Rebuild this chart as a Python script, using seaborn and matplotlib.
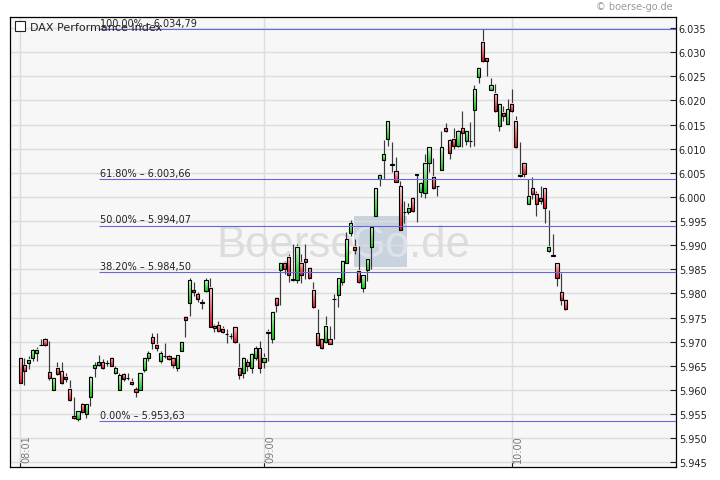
import numpy as np
import pandas as pd
import matplotlib
matplotlib.use("Agg")
import matplotlib.pyplot as plt
import matplotlib.transforms as mtransforms
from matplotlib.colors import LinearSegmentedColormap
from matplotlib.patches import Rectangle
import seaborn as sns

# ---------------- data (DAX 1-minute candles, 08:01 ... 10:13) ----------------
opens = [5966.7, 5965.1, 5965.5, 5966.7, 5967.6, 5969.4, 5970.6, 5963.7, 5960.0, 5964.6,
         5963.9, 5962.7, 5960.2, 5954.5, 5954.0, 5957.0, 5955.0, 5958.5, 5964.6, 5965.1,
         5965.7, 5965.6, 5966.7, 5963.6, 5960.0, 5963.2, 5962.5, 5961.7, 5960.1, 5960.0,
         5964.1, 5966.7, 5970.9, 5969.3, 5966.0, 5967.1, 5967.0, 5966.7, 5964.6, 5968.1,
         5975.2, 5978.1, 5980.7, 5979.8, 5978.3, 5980.5, 5981.2, 5973.3, 5973.4, 5972.7,
         5971.6, 5971.2, 5973.1, 5964.6, 5963.6, 5965.7, 5964.6, 5966.7, 5968.6, 5965.7,
         5971.7, 5970.6, 5979.1, 5984.8, 5986.3, 5987.6, 5982.9, 5982.8, 5986.3, 5987.2,
         5985.2, 5980.7, 5971.7, 5970.6, 5969.9, 5970.6, 5978.9, 5979.6, 5982.3, 5986.3,
         5992.6, 5989.7, 5984.7, 5981.2, 5984.9, 5989.7, 5996.1, 6003.7, 6007.7, 6012.1,
         6006.8, 6005.3, 6002.2, 5996.9, 5996.8, 5999.7, 6004.7, 6001.1, 6000.8, 6007.1,
         6004.2, 6002.3, 6005.6, 6014.2, 6011.8, 6012.1, 6010.6, 6014.2, 6011.6, 6011.6,
         6018.1, 6024.8, 6032.2, 6028.7, 6022.2, 6021.3, 6014.6, 6017.4, 6015.2, 6019.2,
         6015.7, 6004.3, 6007.1, 5998.6, 6001.8, 6000.7, 5999.7, 6001.8, 5988.7, 5987.9,
         5986.2, 5980.2, 5978.7]
highs = [5966.8, 5966.7, 5967.0, 5968.4, 5968.9, 5970.5, 5970.8, 5970.1, 5962.6, 5965.8,
         5965.8, 5963.5, 5962.1, 5958.5, 5955.7, 5957.2, 5957.1, 5962.8, 5965.8, 5967.2,
         5966.5, 5966.3, 5966.8, 5965.0, 5963.6, 5963.6, 5963.4, 5962.4, 5960.7, 5963.7,
         5966.9, 5968.0, 5971.7, 5971.7, 5968.1, 5969.8, 5967.3, 5966.8, 5967.3, 5970.0,
         5975.4, 5983.1, 5982.3, 5980.3, 5978.9, 5983.1, 5983.1, 5973.6, 5974.3, 5973.3,
         5972.6, 5971.8, 5973.2, 5969.7, 5966.8, 5966.4, 5967.6, 5969.1, 5970.2, 5967.7,
         5972.7, 5976.3, 5979.2, 5986.4, 5986.7, 5988.1, 5990.2, 5990.2, 5988.1, 5990.2,
         5985.3, 5982.4, 5976.7, 5970.7, 5975.3, 5973.3, 5979.8, 5983.2, 5986.8, 5992.8,
         5995.2, 5991.2, 5989.9, 5983.9, 5987.3, 5994.0, 6001.9, 6004.7, 6011.8, 6015.8,
         6011.3, 6008.2, 6003.3, 5999.2, 5998.8, 6000.0, 6004.8, 6003.0, 6008.9, 6010.4,
         6008.1, 6002.3, 6013.7, 6015.3, 6011.9, 6014.2, 6013.8, 6017.9, 6013.8, 6015.6,
         6023.2, 6026.8, 6034.79, 6028.8, 6024.6, 6023.4, 6019.3, 6018.9, 6020.3, 6022.3,
         6016.7, 6011.3, 6007.2, 6003.7, 6004.2, 6001.3, 6002.2, 6001.9, 5997.3, 5992.3,
         5986.3, 5984.2, 5978.8]
lows = [5961.4, 5961.0, 5964.4, 5966.0, 5965.9, 5969.3, 5969.2, 5962.0, 5959.9, 5963.0,
        5961.2, 5961.6, 5957.8, 5954.0, 5953.63, 5955.3, 5954.1, 5956.7, 5962.7, 5964.9,
        5964.4, 5965.0, 5964.9, 5963.2, 5959.9, 5961.8, 5962.0, 5961.0, 5958.6, 5959.9,
        5963.8, 5966.0, 5968.4, 5968.1, 5965.6, 5966.7, 5966.3, 5964.6, 5964.0, 5968.0,
        5971.0, 5975.3, 5979.4, 5978.2, 5976.7, 5980.3, 5973.0, 5971.9, 5971.9, 5971.8,
        5969.7, 5970.5, 5969.8, 5962.2, 5962.4, 5964.0, 5963.6, 5966.3, 5963.6, 5964.6,
        5966.0, 5969.8, 5976.2, 5977.6, 5984.0, 5982.3, 5982.6, 5982.1, 5982.1, 5983.0,
        5982.9, 5977.0, 5969.2, 5968.5, 5969.8, 5969.5, 5970.6, 5977.1, 5981.8, 5986.2,
        5991.9, 5988.1, 5982.2, 5980.2, 5982.6, 5985.0, 5996.0, 6002.2, 6003.7, 6010.6,
        6005.2, 6003.0, 5993.1, 5994.6, 5996.5, 5996.9, 5994.7, 5999.9, 5999.7, 6005.2,
        6001.7, 6000.2, 6005.5, 6013.4, 6007.9, 6009.9, 6010.4, 6010.3, 6010.8, 6010.3,
        6010.6, 6023.7, 6028.0, 6025.1, 6022.1, 6017.6, 6013.7, 6015.7, 6015.1, 6017.6,
        6010.2, 6004.2, 6004.2, 5998.5, 5999.6, 5996.1, 5998.5, 5994.6, 5988.6, 5987.7,
        5981.6, 5977.5, 5976.6]
closes = [5961.5, 5963.9, 5966.2, 5968.2, 5968.3, 5969.4, 5969.4, 5962.5, 5962.5, 5963.2,
          5961.5, 5962.2, 5957.9, 5954.1, 5955.6, 5955.5, 5957.0, 5962.6, 5965.1, 5965.7,
          5964.6, 5965.5, 5965.0, 5964.6, 5963.0, 5962.2, 5962.4, 5961.2, 5959.6, 5963.6,
          5966.7, 5967.6, 5969.8, 5968.6, 5967.6, 5967.0, 5966.5, 5965.1, 5967.2, 5970.0,
          5974.5, 5982.7, 5980.3, 5978.8, 5978.1, 5982.7, 5973.1, 5972.8, 5972.2, 5972.0,
          5971.5, 5971.1, 5969.9, 5963.0, 5966.7, 5965.0, 5967.5, 5968.6, 5964.6, 5966.7,
          5972.0, 5976.2, 5977.6, 5986.3, 5985.0, 5983.8, 5982.8, 5989.7, 5983.8, 5986.6,
          5983.1, 5977.1, 5969.3, 5968.6, 5973.3, 5969.6, 5978.8, 5983.1, 5986.7, 5991.2,
          5994.5, 5989.0, 5982.3, 5983.8, 5987.2, 5993.7, 6001.8, 6004.5, 6008.9, 6015.7,
          6006.7, 6003.1, 5993.2, 5996.8, 5997.8, 5997.1, 6004.6, 6002.9, 6007.1, 6010.3,
          6001.8, 6002.2, 6010.3, 6013.7, 6009.2, 6010.6, 6013.7, 6013.2, 6013.7, 6011.5,
          6022.3, 6026.7, 6028.1, 6028.1, 6023.2, 6017.7, 6019.2, 6016.7, 6018.2, 6017.7,
          6010.3, 6004.6, 6004.7, 6000.2, 6000.7, 5998.5, 5999.2, 5997.8, 5989.7, 5987.8,
          5983.2, 5978.7, 5976.7]

tick_minutes = [1, 60, 120]                 # minutes after 08:00
tick_labels = ["08:01", "09:00", "10:00"]
fib_levels = [6034.79, 6003.66, 5994.07, 5984.50, 5953.63]
fib_labels = ["100.00% \u2013 6.034,79", "61.80% \u2013 6.003,66", "50.00% \u2013 5.994,07",
              "38.20% \u2013 5.984,50", "0.00% \u2013 5.953,63"]
fib_start = 20                              # minute where the retracement starts
y_ticks = [5945, 5950, 5955, 5960, 5965, 5970, 5975, 5980, 5985, 5990,
           5995, 6000, 6005, 6010, 6015, 6020, 6025, 6030, 6035]
title = "DAX Performance Index"

df = pd.DataFrame({"minute": np.arange(1, len(opens) + 1), "open": opens,
                   "high": highs, "low": lows, "close": closes})

# ---------------- style ----------------
sns.set_theme(style="white")
plt.rcParams["font.family"] = ["DejaVu Sans"]

W, H = 720, 481
fig = plt.figure(figsize=(W / 100, H / 100), dpi=100)
fig.patch.set_facecolor("white")
ax = fig.add_axes([10.3 / W, (H - 468.3) / H, (676 - 10.3) / W, 450 / H])
ax.set_facecolor("#f7f7f7")
ax.set_axisbelow(True)

# watermark (behind candles)
wm_kw = dict(transform=fig.transFigure, family="Liberation Sans", fontsize=31.5,
             va="baseline", zorder=0.3)
ax.add_patch(Rectangle((354.3 / W, 1 - 268.3 / H), 52.4 / W, 51 / H,
                       transform=fig.transFigure, facecolor="#c9d3de",
                       edgecolor="none", zorder=0.2))
ax.text(355 / W, 1 - 257 / H, "Boerse", ha="right", color="#dddddd", **wm_kw)
ax.text(380.5 / W, 1 - 257 / H, "Go", ha="center", color="#dbe2ea", **wm_kw)
ax.text(409 / W, 1 - 257 / H, ".de", ha="left", color="#dddddd", **wm_kw)

# wicks
ax.vlines(df["minute"], df["low"], df["high"], color="#3a3a3a", lw=0.85, zorder=2)

# bodies with vertical gradient
red_cmap = LinearSegmentedColormap.from_list("r", ["#fbd8da", "#f07078", "#e4141c"])
green_cmap = LinearSegmentedColormap.from_list("g", ["#d6f7d6", "#6ee06e", "#18c418"])
grad = np.linspace(1, 0, 64).reshape(-1, 1)   # bottom saturated, top light
bw = 0.78
for m, o, c in zip(df["minute"], df["open"], df["close"]):
    lo, hi = min(o, c), max(o, c)
    cmap = green_cmap if c >= o else red_cmap
    if hi - lo > 0.25:
        ax.imshow(grad, extent=(m - bw / 2, m + bw / 2, lo, hi), origin="lower",
                  cmap=cmap, aspect="auto", interpolation="bilinear", zorder=3)
    ax.add_patch(Rectangle((m - bw / 2, lo), bw, hi - lo, fill=False,
                           edgecolor="black", lw=0.8, zorder=4))

# fibonacci lines + labels
ax.hlines(fib_levels, fib_start, 1000, colors="#6666dd", lw=0.8, zorder=5)
for lvl, lab in zip(fib_levels, fib_labels):
    ax.annotate(lab, xy=(fib_start, lvl), xytext=(0.8, 2.2), textcoords="offset points",
                ha="left", va="baseline", fontsize=7, color="#222222", zorder=6)

# axes limits, grid, ticks
ax.set_xlim(-1.42, 159.8)
ax.set_ylim(5943.96, 6037.22)
ax.set_yticks(y_ticks)
ax.set_yticklabels([f"{v:,.0f}".replace(",", ".") for v in y_ticks])
ax.yaxis.tick_right()
ax.set_xticks(tick_minutes)
ax.set_xticklabels([])
ax.grid(True, color="#dcdcdc", lw=1.0)
ax.tick_params(axis="y", direction="in", length=4, width=0.8, colors="#222222",
               pad=2, labelsize=7, right=True, left=False)
ax.tick_params(axis="x", direction="in", length=4, width=0.8, color="#222222",
               bottom=True)
for sp in ax.spines.values():
    sp.set_color("black")
    sp.set_linewidth(0.9)

# rotated time labels inside the plot
off = mtransforms.ScaledTranslation(1.4 / 100, 0, fig.dpi_scale_trans)
trans = mtransforms.blended_transform_factory(ax.transData, ax.transAxes) + off
for m, lab in zip(tick_minutes, tick_labels):
    ax.text(m, 0.012, lab, rotation=90, ha="left", va="bottom", fontsize=7,
            color="#777777", transform=trans, zorder=6)

# legend-like title and copyright
fig.patches.append(Rectangle((15 / W, 1 - 31.7 / H), 10 / W, 9.4 / H,
                             transform=fig.transFigure, facecolor="white",
                             edgecolor="#222222", lw=0.8, zorder=7))
fig.text(30 / W, 1 - 30.7 / H, title, fontsize=8, color="#222222", va="baseline",
         ha="left", zorder=7)
fig.text(673 / W, 1 - 7.5 / H, "\u00a9 boerse-go.de", fontsize=7, color="#9a9a9a",
         ha="right", va="center")

fig.savefig("out.png", dpi=100, facecolor="white")
